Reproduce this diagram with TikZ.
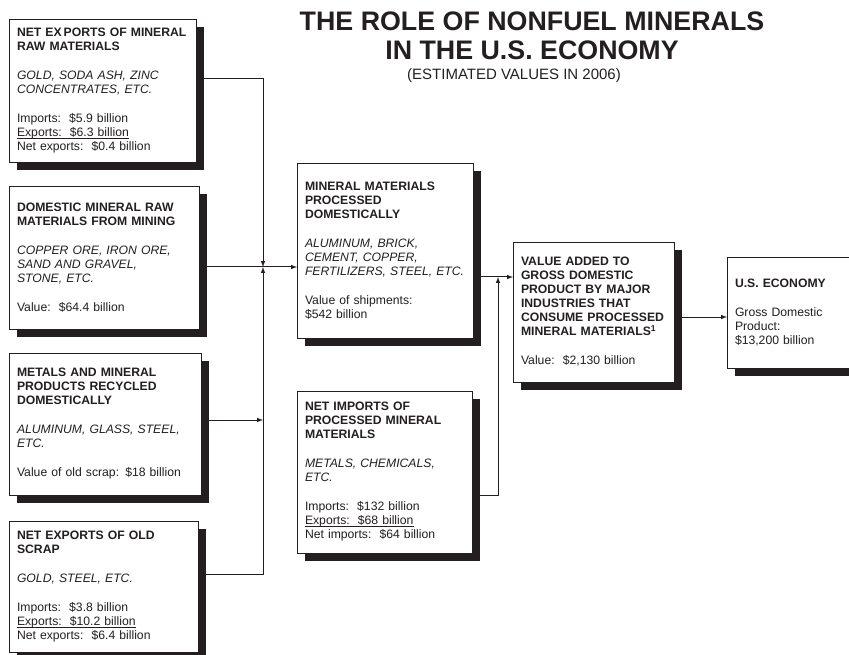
\documentclass[tikz,border=0pt]{standalone}
\usepackage{fontspec}
\setmainfont{Liberation Sans}
\usetikzlibrary{arrows,shadows}

\definecolor{ink}{HTML}{231F20}
\newcommand{\uln}[1]{\underline{\smash{#1}}}

\tikzset{
  panel/.style={draw=ink, line width=0.8pt, fill=white, anchor=north west,
    align=left, inner xsep=8pt, inner ysep=8pt, outer sep=0pt, text=ink,
    font=\fontsize{12.2}{14}\selectfont,
    drop shadow={shadow xshift=8pt, shadow yshift=-8pt, fill=ink, opacity=1}},
  flow/.style={-latex, line width=1pt, draw=ink},
  heading/.style={anchor=base, text=ink, font=\fontsize{26.8}{30}\selectfont\bfseries}
}

\begin{document}
\begin{tikzpicture}[x=1pt, y=-1pt]
	\useasboundingbox (0,0) rectangle (849,655);

	% Title
	\node[heading] (title1) at (532,31) {THE ROLE OF NONFUEL MINERALS};
	\node[heading] (title2) at (532,60) {IN THE U.S. ECONOMY};
	\node[anchor=base, text=ink, font=\fontsize{15}{18}\selectfont] (subtitle) at (514,80) {(ESTIMATED VALUES IN 2006)};

	% Sources
	\node[panel, minimum width=187pt, minimum height=143pt, text width=171pt] (netexp) at (9,19) {%
		\bfseries NET EX\hspace{2pt}PORTS OF MINERAL\\RAW MATERIALS\\[15pt]
		\mdseries\itshape GOLD, SODA ASH, ZINC\\CONCENTRATES, ETC.\\[15pt]
		\upshape Imports:~~\$5.9 billion\\
		\uln{Exports:~~\$6.3 billion}\\
		Net exports:~~\$0.4 billion};
	\node[panel, minimum width=190pt, minimum height=143pt, text width=174pt] (mining) at (9,186) {%
		\bfseries DOMESTIC MINERAL RAW\\MATERIALS FROM MINING\\[15pt]
		\mdseries\itshape COPPER ORE, IRON ORE,\\SAND AND GRAVEL,\\STONE, ETC.\\[15pt]
		\upshape Value:~~\$64.4 billion\\[6pt]};
	\node[panel, minimum width=192pt, minimum height=142pt, text width=176pt] (recycled) at (9,353) {%
		\bfseries METALS AND MINERAL\\PRODUCTS RECYCLED\\DOMESTICALLY\\[15pt]
		\mdseries\itshape ALUMINUM, GLASS, STEEL,\\ETC.\\[15pt]
		\upshape Value of old scrap: \$18 billion};
	\node[panel, minimum width=189pt, minimum height=131pt, text width=173pt] (scrapexp) at (9,521) {%
		\bfseries NET EXPORTS OF OLD\\SCRAP\\[15pt]
		\mdseries\itshape GOLD, STEEL, ETC.\\[15pt]
		\upshape Imports:~~\$3.8 billion\\
		\uln{Exports:~~\$10.2 billion}\\
		Net exports:~~\$6.4 billion};

	% Processing
	\node[panel, minimum width=176pt, minimum height=175pt, text width=160pt] (processed) at (297,163) {%
		\bfseries MINERAL MATERIALS\\PROCESSED\\DOMESTICALLY\\[15pt]
		\mdseries\itshape ALUMINUM, BRICK,\\CEMENT, COPPER,\\FERTILIZERS, STEEL, ETC.\\[15pt]
		\upshape Value of shipments:\\\$542 billion};
	\node[panel, minimum width=175pt, minimum height=162pt, text width=159pt] (netimp) at (297,391) {%
		\bfseries NET IMPORTS OF\\PROCESSED MINERAL\\MATERIALS\\[15pt]
		\mdseries\itshape METALS, CHEMICALS,\\ETC.\\[15pt]
		\upshape Imports:~~\$132 billion\\
		\uln{Exports:~~\$68 billion}\\
		Net imports:~~\$64 billion};

	% Economy
	\node[panel, minimum width=161pt, minimum height=140pt, text width=145pt] (valueadd) at (513,242) {%
		\bfseries VALUE ADDED TO\\GROSS DOMESTIC\\PRODUCT BY MAJOR\\INDUSTRIES THAT\\CONSUME PROCESSED\\MINERAL MATERIALS\textsuperscript{1}\\[15pt]
		\mdseries Value:~~\$2,130 billion};
	\node[panel, minimum width=132pt, minimum height=111pt, text width=116pt] (economy) at (727,257) {%
		\bfseries U.S. ECONOMY\\[15pt]
		\mdseries Gross Domestic\\Product:\\\$13,200 billion};

	% Connectors
	\coordinate (jn) at (263,267);
	\coordinate (jp) at (498,277);
	\draw[flow] ([yshift=11.5pt]netexp.east) -| (jn);
	\draw[flow, latex-latex] (jn) |- ([yshift=12.5pt]scrapexp.east);
	\draw[flow] ([yshift=4pt]recycled.east) -- ([yshift=4pt]recycled.east -| jn);
	\draw[flow] ([yshift=-9.5pt]mining.east) -- ([yshift=-9.5pt]mining.east -| processed.west);
	\draw[flow] ([yshift=-26.5pt]processed.east) -- ([yshift=-26.5pt]processed.east -| valueadd.west);
	\draw[flow] ([yshift=-23pt]netimp.east) -| (jp);
	\draw[flow] ([yshift=-5pt]valueadd.east) -- ([yshift=-5pt]valueadd.east -| economy.west);
\end{tikzpicture}
\end{document}
